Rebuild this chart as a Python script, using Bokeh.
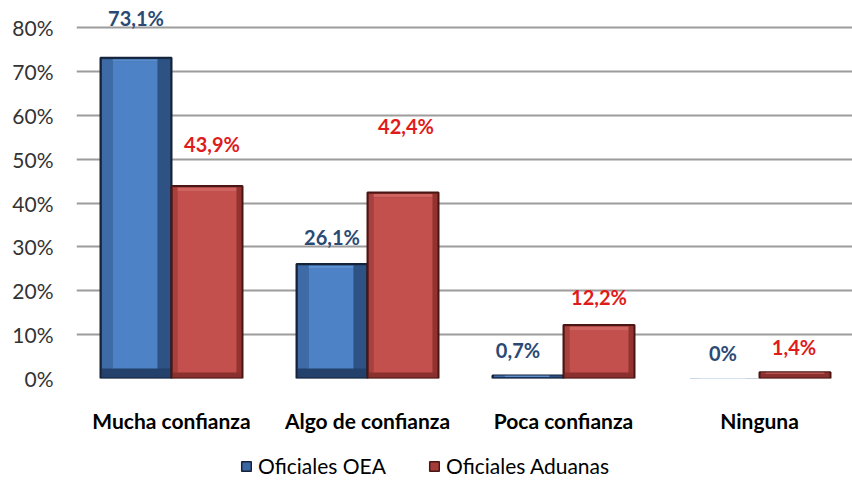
import numpy as np
from bokeh.plotting import figure
from bokeh.layouts import column
from bokeh.models import FixedTicker, Legend, LegendItem, Range1d, ColumnDataSource
from bokeh.core.properties import value
from bokeh.embed import file_html
from bokeh.resources import INLINE

# ---- data ----
categories = ["Mucha confianza", "Algo de confianza", "Poca confianza", "Ninguna"]
oea = [73.1, 26.1, 0.7, 0.0]
aduanas = [43.9, 42.4, 12.2, 1.4]
series_names = ["Oficiales OEA", "Oficiales Aduanas"]
y_ticks = [0, 10, 20, 30, 40, 50, 60, 70, 80]

# ---- style / layout ----
PX_X = 196.0          # pixels per category
PX_Y = 4.3875         # pixels per percent
BAR_W = 71 / PX_X
FONT = "Lato"
FRAME_L = 76
FRAME_B = 378
W = 852
H1 = 438
H2 = 481 - H1

# label offsets (pixels above bar top) and horizontal nudges
oea_lab_dy = [40, 27, 25, 26]
oea_lab_dx = [0, 0, -10, -1]
adu_lab_dy = [42, 66, 28, 25]
adu_lab_dx = [5, 3, 0, -1]

styles = {
    "Oficiales OEA": dict(outer="#23416a", left="#3e6ba6", right="#2d5283", face="#4d83c6",
                          top="#5b8fd0", border="#14233a", ins_l=12, ins_r=14, ins_b=10, ins_t=4,
                          label="#2a4a74", swatch="#3a67a3"),
    "Oficiales Aduanas": dict(outer="#8a302e", left="#a8403d", right="#93332f", face="#c4504d",
                              top="#cf6360", border="#4a1614", ins_l=6, ins_r=6, ins_b=6, ins_t=5,
                              label="#e01b1b", swatch="#a63c3a"),
}

x = np.arange(len(categories), dtype=float)

p = figure(width=W, height=H1, output_backend="svg", toolbar_location=None,
           x_range=Range1d(-(171 - FRAME_L) / PX_X, (W - 171) / PX_X),
           y_range=Range1d(0, 80 + 27 / PX_Y),
           min_border_left=FRAME_L, min_border_right=0, min_border_top=0,
           min_border_bottom=H1 - FRAME_B)
p.outline_line_color = None
p.background_fill_color = "white"
p.border_fill_color = "white"

# legend strip (separate small figure beneath; its range shows none of the bars)
p2 = figure(width=W, height=H2, output_backend="svg", toolbar_location=None,
            x_axis_type=None, y_axis_type=None, x_range=Range1d(0, 1), y_range=Range1d(-3, -2),
            min_border=0)
p2.outline_line_color = None
p2.background_fill_color = "white"
p2.border_fill_color = "white"

legend_items = []
for vals, name, off, dys, dxs in [(oea, series_names[0], -0.5, oea_lab_dy, oea_lab_dx),
                                  (aduanas, series_names[1], 0.5, adu_lab_dy, adu_lab_dx)]:
    s = styles[name]
    v = np.array(vals, dtype=float)
    cx = x + off * BAR_W
    left = cx - BAR_W / 2
    right = cx + BAR_W / 2
    top = v
    bottom = np.zeros_like(v)
    il = s["ins_l"] / PX_X
    ir = s["ins_r"] / PX_X
    ib = s["ins_b"] / PX_Y
    it = s["ins_t"] / PX_Y
    inner_top = np.maximum(top - it, np.minimum(bottom + ib, top))
    inner_bot = np.minimum(bottom + ib, inner_top)
    bsrc = ColumnDataSource(dict(left=left, right=right, bottom=bottom, top=top,
                                 la=(v > 0).astype(float)))
    # outer bar (darkest bevel, bottom)
    p.quad(left="left", right="right", bottom="bottom", top="top", source=bsrc,
           fill_color=s["outer"], line_color=s["border"], line_width=2, line_alpha="la")
    # left bevel
    p.quad(left=left + 1.5 / PX_X, right=left + il, bottom=inner_bot, top=top - 1.5 / PX_Y,
           fill_color=s["left"], line_color=None)
    # right bevel
    p.quad(left=right - ir, right=right - 1.5 / PX_X, bottom=inner_bot, top=top - 1.5 / PX_Y,
           fill_color=s["right"], line_color=None)
    # top bevel
    p.quad(left=left + il, right=right - ir, bottom=inner_top, top=top - 1.5 / PX_Y,
           fill_color=s["top"], line_color=None)
    # face
    p.quad(left=left + il, right=right - ir, bottom=inner_bot, top=inner_top,
           fill_color=s["face"], line_color=None)

    # legend swatch renderer (same bars, outside the strip's visible range)
    lr = p2.quad(left="left", right="right", bottom="bottom", top="top", source=bsrc,
                 fill_color=s["swatch"], line_color=s["border"], line_width=1.5)
    legend_items.append(LegendItem(label=name, renderers=[lr]))

    labels = [("%g" % val).replace(".", ",") + "%" for val in vals]
    src = ColumnDataSource(dict(x=cx, y=top, text=labels,
                                xo=list(dxs), yo=[-d for d in dys]))
    p.text(x="x", y="y", text="text", source=src, x_offset="xo", y_offset="yo",
           text_align="center", text_baseline="middle", text_color=s["label"],
           text_font=value(FONT), text_font_size="20px", text_font_style="bold")

# axes
p.yaxis.ticker = FixedTicker(ticks=y_ticks)
p.yaxis.major_label_overrides = {t: f"{t}%" for t in y_ticks}
p.yaxis.axis_line_color = None
p.yaxis.major_tick_line_color = None
p.yaxis.minor_tick_line_color = None
p.yaxis.major_label_standoff = 17
p.yaxis.major_label_text_font = FONT
p.yaxis.major_label_text_font_size = "21px"
p.yaxis.major_label_text_color = "#333333"

p.xaxis.ticker = FixedTicker(ticks=list(range(len(categories))))
p.xaxis.major_label_overrides = {i: c for i, c in enumerate(categories)}
p.xaxis.axis_line_color = None
p.xaxis.major_tick_line_color = None
p.xaxis.minor_tick_line_color = None
p.xaxis.major_label_standoff = 23
p.xaxis.major_label_text_font = FONT
p.xaxis.major_label_text_font_size = "21px"
p.xaxis.major_label_text_font_style = "bold"
p.xaxis.major_label_text_color = "#000000"

p.xgrid.grid_line_color = None
p.ygrid.grid_line_color = "#9c9c9c"
p.ygrid.grid_line_width = 2
p.ygrid.level = "underlay"

legend = Legend(items=legend_items, orientation="horizontal", location=(240 - FRAME_L, 3),
                label_text_font=FONT, label_text_font_size="21px",
                label_text_color="#000000", glyph_width=12, glyph_height=12,
                spacing=42, label_standoff=6, border_line_color=None,
                background_fill_alpha=0, padding=0, margin=0)
p2.add_layout(legend, "center")

layout = column(p, p2, spacing=0)
open("out.html", "w").write(file_html(layout, INLINE))
